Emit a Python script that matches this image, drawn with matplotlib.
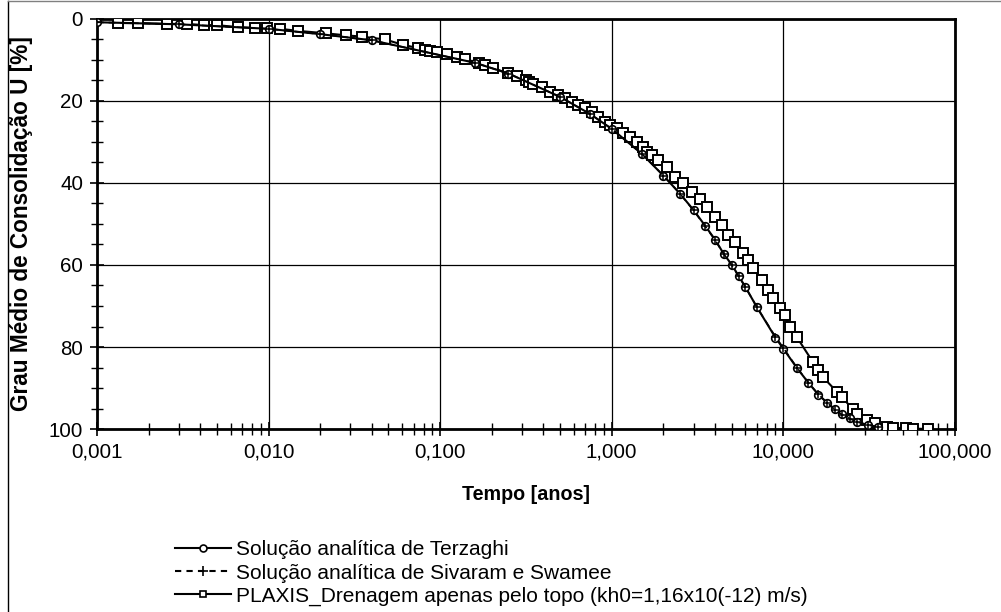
import matplotlib
matplotlib.use('Agg')
from matplotlib import pyplot as plt
from matplotlib.ticker import FixedLocator, LogLocator, NullFormatter
from matplotlib.lines import Line2D

plt.rcParams['font.family'] = ['Liberation Sans', 'DejaVu Sans']

# Terzaghi analytical solution (time in years, U in %)
t_terz = [0.001, 0.003, 0.01, 0.02, 0.04, 0.16, 0.25, 0.5, 0.75, 1.0, 1.5, 2.0,
          2.5, 3.0, 3.5, 4.0, 4.5, 5.0, 5.5, 6.0, 7.0, 9.0, 10.0, 12.0, 14.0,
          16.0, 18.0, 20.0, 22.0, 24.5, 27.0, 31.0, 35.5]
u_terz = [0.8, 1.3, 2.4, 3.7, 5.2, 10.7, 13.3, 19.0, 23.2, 26.8, 32.9, 38.2,
          42.6, 46.6, 50.4, 53.8, 57.3, 59.9, 62.7, 65.3, 70.2, 77.7, 80.4, 85.1,
          88.7, 91.6, 93.6, 95.2, 96.4, 97.4, 98.3, 99.0, 99.5]

# Sivaram & Swamee approximation
t_siv = t_terz
u_siv = [0.8, 1.3, 2.4, 3.7, 5.2, 10.7, 13.3, 19.0, 23.2, 26.8, 32.9, 38.2,
         42.6, 46.7, 50.5, 53.9, 57.3, 60.0, 62.8, 65.3, 70.2, 77.5, 80.2, 85.0,
         88.7, 91.5, 93.6, 95.3, 96.5, 97.5, 98.3, 99.0, 99.5]

# PLAXIS results
t_plx = [0.00132, 0.00173, 0.00256, 0.00334, 0.0042, 0.005, 0.00663, 0.00834,
         0.0098, 0.01165, 0.01483, 0.0216, 0.0283, 0.035, 0.0477, 0.0607, 0.0743,
         0.0815, 0.0873, 0.0957, 0.1096, 0.1254, 0.1396, 0.168, 0.182, 0.203,
         0.248, 0.28, 0.316, 0.329, 0.3475, 0.392, 0.436, 0.486, 0.533, 0.586,
         0.635, 0.698, 0.767, 0.831, 0.913, 0.977, 1.072, 1.162, 1.276, 1.402,
         1.52, 1.6, 1.714, 1.858, 2.097, 2.335, 2.6, 2.94, 3.27, 3.59, 4.0, 4.4,
         4.76, 5.23, 5.82, 6.23, 6.66, 7.52, 8.15, 8.72, 9.58, 10.2, 10.9, 12.0,
         14.9, 15.9, 17.0, 20.5, 21.9, 25.4, 26.9, 30.7, 34.2, 40.2, 43.5, 51.8,
         56.9, 69.6]
u_plx = [1.0, 1.0, 1.2, 1.2, 1.5, 1.5, 2.0, 2.2, 2.3, 2.4, 2.9, 3.5, 4.0, 4.3,
         5.0, 6.3, 7.1, 7.6, 7.8, 8.0, 8.5, 9.3, 9.8, 10.7, 11.2, 12.0, 13.2,
         13.9, 14.9, 15.4, 15.9, 16.6, 17.8, 18.5, 19.3, 20.2, 21.0, 21.7, 22.7,
         23.9, 25.1, 25.9, 26.6, 27.8, 28.8, 30.0, 31.2, 32.4, 33.2, 34.4, 36.1,
         38.5, 40.0, 42.2, 43.9, 45.9, 48.3, 50.2, 52.7, 54.4, 57.1, 58.8, 60.7,
         63.7, 66.1, 68.0, 70.5, 72.2, 75.1, 77.6, 83.7, 85.6, 87.3, 90.9, 92.2,
         95.1, 96.3, 97.8, 98.5, 99.5, 99.7, 99.8, 99.9, 100.0]

x_ticks = [0.001, 0.01, 0.1, 1, 10, 100]
x_tick_labels = ['0,001', '0,010', '0,100', '1,000', '10,000', '100,000']
y_ticks = [0, 20, 40, 60, 80, 100]

fig = plt.figure(figsize=(10.01, 6.12), dpi=100)
ax = fig.add_axes([0.0969, 0.299, 0.857, 0.670])

ax.plot(t_plx, u_plx, color='black', lw=1.5, marker='s', ms=6.6, mfc='white',
        mec='black', mew=1.4, zorder=3)
ax.plot(t_terz, u_terz, color='black', lw=1.5, marker='o', ms=5.5, mfc='white',
        mec='black', mew=1.2, zorder=4)
ax.plot(t_siv, u_siv, color='black', lw=1.2, ls=(0, (4, 3)), marker='+', ms=5.5,
        mec='black', mew=1.1, zorder=5)

ax.set_xscale('log')
ax.set_xlim(0.001, 100)
ax.set_ylim(100, 0)
ax.set_xticks(x_ticks)
ax.set_xticklabels(x_tick_labels)
ax.xaxis.set_minor_locator(LogLocator(base=10, subs=range(2, 10), numticks=20))
ax.xaxis.set_minor_formatter(NullFormatter())
ax.set_yticks(y_ticks)
ax.yaxis.set_minor_locator(FixedLocator(range(0, 101, 5)))

ax.grid(True, which='major', color='black', lw=0.9)
ax.tick_params(which='major', direction='inout', length=10, width=1.2,
               labelsize=14.8, colors='black')
ax.tick_params(which='minor', direction='inout', length=8, width=1.0)
ax.tick_params(axis='x', pad=5)
ax.tick_params(axis='y', pad=5)
for s in ax.spines.values():
    s.set_linewidth(2)

ax.set_xlabel('Tempo [anos]', fontsize=14.2, fontweight='bold')
ax.xaxis.set_label_coords(0.5, -0.137)
ax.set_ylabel('Grau Médio de Consolidação U [%]', fontsize=16.3,
              fontweight='bold')
ax.yaxis.set_label_coords(-0.075, 0.5)

handles = [
    Line2D([], [], color='black', lw=1.5, marker='o', ms=5, mfc='white', mew=1.2),
    Line2D([], [], color='black', lw=1.5, ls=(0, (3, 2.5)), marker='+', ms=7, mew=1.2),
    Line2D([], [], color='black', lw=1.5, marker='s', ms=5, mfc='white', mew=1.2),
]
labels = ['Solução analítica de Terzaghi',
          'Solução analítica de Sivaram e Swamee',
          'PLAXIS_Drenagem apenas pelo topo (kh0=1,16x10(-12) m/s)']
fig.legend(handles, labels, loc='upper left', bbox_to_anchor=(0.175, 0.117),
           frameon=False, fontsize=15, handlelength=2.7, handletextpad=0.2,
           labelspacing=0.2, borderaxespad=0, borderpad=0)

# partial outer frame (left and top)
fig.add_artist(Line2D([0.008, 0.008], [0.0, 0.998], color='black', lw=1,
                      transform=fig.transFigure))
fig.add_artist(Line2D([0.008, 1.0], [0.998, 0.998], color='gray', lw=1,
                      transform=fig.transFigure))

fig.savefig('out.png', dpi=100)
